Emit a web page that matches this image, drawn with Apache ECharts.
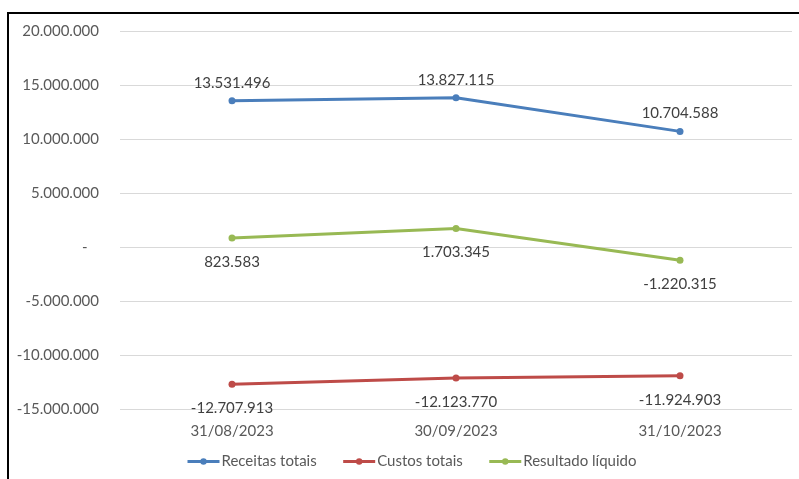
<!DOCTYPE html>
<html><head><meta charset="utf-8">
<script src="https://cdn.jsdelivr.net/npm/echarts@6/dist/echarts.min.js"></script>
<style>html,body{margin:0;padding:0;background:#fff}#c{width:799px;height:479px}</style>
</head><body><div id="c"></div>
<script>
var categories = ['31/08/2023', '30/09/2023', '31/10/2023'];
var receitas = [13531496, 13827115, 10704588];
var custos = [-12707913, -12123770, -11924903];
var resultado = [823583, 1703345, -1220315];
var seriesNames = ['Receitas totais', 'Custos totais', 'Resultado líquido'];

function fmt(v) {
  if (v === 0) return '-';
  var s = Math.abs(Math.round(v)).toString().replace(/\B(?=(\d{3})+(?!\d))/g, '.');
  return (v < 0 ? '-' : '') + s;
}
var FONT = 'Lato';
var chart = echarts.init(document.getElementById('c'));
function mk(name, data, color, pos, dist) {
  return {
    name: name, type: 'line', data: data,
    symbol: 'circle', symbolSize: 7,
    lineStyle: { color: color, width: 3 },
    itemStyle: { color: color },
    label: { show: true, position: pos, distance: dist, color: '#404040', fontFamily: FONT, fontSize: 15,
      formatter: function (p) { return fmt(p.value); } }
  };
}
chart.setOption({
  animation: false,
  textStyle: { fontFamily: FONT },
  grid: { left: 120, right: 7, top: 31, bottom: 70, containLabel: false },
  xAxis: {
    type: 'category', data: categories, boundaryGap: true,
    axisLine: { show: false }, axisTick: { show: false },
    axisLabel: { color: '#595959', fontSize: 15, fontFamily: FONT, margin: 15 }
  },
  yAxis: {
    type: 'value', min: -15000000, max: 20000000, interval: 5000000,
    axisLine: { show: false }, axisTick: { show: false },
    splitLine: { lineStyle: { color: '#d9d9d9', width: 1 } },
    axisLabel: { color: '#595959', fontSize: 15, fontFamily: FONT, margin: 21,
      formatter: function (v) { return v === 0 ? '-   ' : fmt(v); } }
  },
  legend: {
    bottom: 5, left: 181, itemWidth: 32, itemHeight: 8, itemGap: 25,
    lineStyle: { width: 3 },
    textStyle: { color: '#595959', fontSize: 15, fontFamily: FONT, padding: [0, 0, 0, -3] },
    data: seriesNames
  },
  graphic: [{ type: 'rect', shape: { x: 8, y: 13, width: 820, height: 500 },
    style: { fill: 'none', stroke: '#000', lineWidth: 2 }, silent: true }],
  series: [
    mk(seriesNames[0], receitas, '#4a7ebb', 'top', 7),
    mk(seriesNames[1], custos, '#be4b48', 'bottom', 13),
    mk(seriesNames[2], resultado, '#98b954', 'bottom', 13)
  ]
});
</script></body></html>
